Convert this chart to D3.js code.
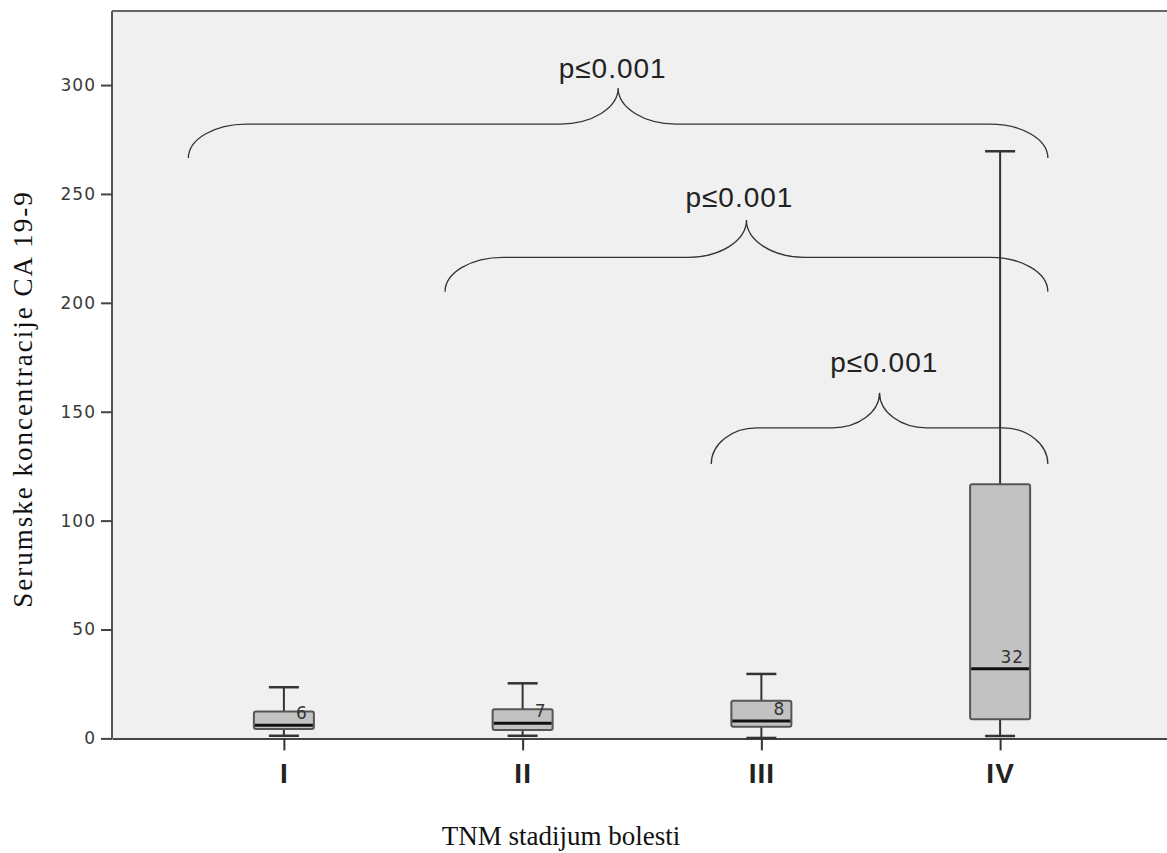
<!DOCTYPE html>
<html>
<head>
<meta charset="utf-8">
<script src="https://cdn.jsdelivr.net/npm/d3@7"></script>
<style>
  html, body { margin: 0; padding: 0; background: #ffffff; }
  svg { display: block; }
</style>
</head>
<body>
<svg id="chart" width="1167" height="853"></svg>
<script>
// Serum CA 19-9 by TNM stage: box summaries
const stages       = ["I", "II", "III", "IV"];
const whiskerLow   = [1.2, 1.2, 0.2, 1.1];
const quartile1    = [4.3, 3.9, 5.4, 8.8];
const medians      = [6, 7, 8, 32];
const quartile3    = [12.3, 13.4, 17.3, 116.7];
const whiskerHigh  = [23.5, 25.3, 29.6, 269.6];

// Y axis ticks
const yTicks = [0, 50, 100, 150, 200, 250, 300];

// Significance braces (positions in stage-index units, heights in CA 19-9 units)
const braceFrom    = [-0.40, 0.675, 1.79];
const braceTo      = [3.20, 3.20, 3.20];
const braceEnd     = [266.5, 205.1, 126.0];
const braceLevel   = [282.1, 220.9, 142.6];
const braceTip     = [298.6, 238.0, 158.7];
const braceLabels  = ["p≤0.001", "p≤0.001", "p≤0.001"];
const labelAt      = [1.377, 1.908, 2.515];
const labelValue   = [303.3, 244.1, 168.4];

const svg = d3.select("#chart");
const plot = { left: 112, right: 1172, top: 11, bottom: 738.4 };

const x = d3.scalePoint().domain(stages).range([plot.left, plot.right]).padding(0.72);
const xi = i => x(stages[0]) + i * x.step();
const y = d3.scaleLinear().domain([0, 334]).range([plot.bottom, plot.top]);

// Plot background
svg.append("rect")
  .attr("x", plot.left).attr("y", plot.top)
  .attr("width", plot.right - plot.left).attr("height", plot.bottom - plot.top)
  .attr("fill", "#f0f0f0");

// Top frame line
svg.append("line")
  .attr("x1", plot.left).attr("x2", plot.right)
  .attr("y1", plot.top).attr("y2", plot.top)
  .attr("stroke", "#666").attr("stroke-width", 2);

// Braces
const brace = (x0, x1, xm, yE, yH, yT) => {
  const w = Math.min(58, (x1 - x0) * 0.135);
  const w2 = Math.min(58, (x1 - x0) * 0.14);
  const hE = yE - yH, hT = yH - yT;
  return `M${x0},${yE} A${w},${hE} 0 0 1 ${x0 + w},${yH}` +
         ` L${xm - w2},${yH} A${w2},${hT} 0 0 0 ${xm},${yT}` +
         ` A${w2},${hT} 0 0 0 ${xm + w2},${yH}` +
         ` L${x1 - w},${yH} A${w},${hE} 0 0 1 ${x1},${yE}`;
};
const braceG = svg.append("g");
braceFrom.forEach((f, i) => {
  const x0 = xi(f), x1 = xi(braceTo[i]), xm = (x0 + x1) / 2;
  braceG.append("path")
    .attr("d", brace(x0, x1, xm, y(braceEnd[i]), y(braceLevel[i]), y(braceTip[i])))
    .attr("fill", "none").attr("stroke", "#333").attr("stroke-width", 1.3);
  braceG.append("text")
    .attr("x", xi(labelAt[i])).attr("y", y(labelValue[i]))
    .attr("text-anchor", "middle")
    .attr("font-family", "Liberation Sans, Arial, sans-serif")
    .attr("font-size", 28).attr("letter-spacing", 1).attr("fill", "#222")
    .text(braceLabels[i]);
});

// X axis (line + ticks below)
const xAxis = svg.append("g")
  .attr("transform", `translate(0,${plot.bottom})`)
  .call(d3.axisBottom(x).tickSize(12).tickSizeOuter(0).tickPadding(6));
xAxis.select(".domain").attr("stroke", "#444").attr("stroke-width", 2);
xAxis.selectAll(".tick line").attr("stroke", "#333").attr("stroke-width", 2);
xAxis.selectAll(".tick text")
  .attr("font-family", "Liberation Sans, Arial, sans-serif")
  .attr("font-weight", "bold").attr("font-size", 28)
  .attr("letter-spacing", 1).attr("fill", "#222")
  .attr("dy", "0.95em");

// Y axis
const yAxis = svg.append("g")
  .attr("transform", `translate(${plot.left},0)`)
  .call(d3.axisLeft(y).tickValues(yTicks).tickSize(11).tickSizeOuter(0).tickPadding(5));
yAxis.select(".domain").attr("stroke", "#555").attr("stroke-width", 2)
  .attr("d", `M0,${plot.top}V${plot.bottom}`);
yAxis.selectAll(".tick line").attr("stroke", "#444").attr("stroke-width", 2);
yAxis.selectAll(".tick text")
  .attr("font-family", "DejaVu Sans, Verdana, sans-serif")
  .attr("font-size", 17).attr("letter-spacing", 1).attr("fill", "#3a3a3a");

// Box plots
const boxW = 60, capW = 30;
const boxes = svg.append("g");
stages.forEach((s, i) => {
  const cx = x(s);
  const g = boxes.append("g");
  // whiskers
  g.append("line").attr("x1", cx).attr("x2", cx)
    .attr("y1", y(whiskerHigh[i])).attr("y2", y(quartile3[i]))
    .attr("stroke", "#333").attr("stroke-width", 2);
  g.append("line").attr("x1", cx).attr("x2", cx)
    .attr("y1", y(quartile1[i])).attr("y2", y(whiskerLow[i]))
    .attr("stroke", "#333").attr("stroke-width", 2);
  [whiskerHigh[i], whiskerLow[i]].forEach(v => {
    g.append("line").attr("x1", cx - capW / 2).attr("x2", cx + capW / 2)
      .attr("y1", y(v)).attr("y2", y(v))
      .attr("stroke", "#333").attr("stroke-width", 2.5);
  });
  // box
  g.append("rect")
    .attr("x", cx - boxW / 2).attr("y", y(quartile3[i]))
    .attr("width", boxW).attr("height", y(quartile1[i]) - y(quartile3[i]))
    .attr("rx", 2).attr("ry", 2)
    .attr("fill", "#c2c2c2").attr("stroke", "#555").attr("stroke-width", 2);
  // median
  g.append("line").attr("x1", cx - boxW / 2 + 1).attr("x2", cx + boxW / 2 - 1)
    .attr("y1", y(medians[i])).attr("y2", y(medians[i]))
    .attr("stroke", "#111").attr("stroke-width", 3);
  g.append("text")
    .attr("x", cx + 24).attr("y", y(medians[i]) - 6)
    .attr("text-anchor", "end")
    .attr("font-family", "DejaVu Sans, Verdana, sans-serif")
    .attr("font-size", 17).attr("letter-spacing", 1).attr("fill", "#333")
    .text(medians[i]);
});

// Axis titles
svg.append("text")
  .attr("x", 561).attr("y", 845)
  .attr("text-anchor", "middle")
  .attr("font-family", "Liberation Serif, Times New Roman, serif")
  .attr("font-size", 27).attr("fill", "#111")
  .text("TNM stadijum bolesti");

svg.append("text")
  .attr("transform", "translate(31.5,399) rotate(-90)")
  .attr("text-anchor", "middle")
  .attr("font-family", "Liberation Serif, Times New Roman, serif")
  .attr("font-size", 27).attr("letter-spacing", 2).attr("fill", "#111")
  .text("Serumske koncentracije CA 19-9");
</script>
</body>
</html>
